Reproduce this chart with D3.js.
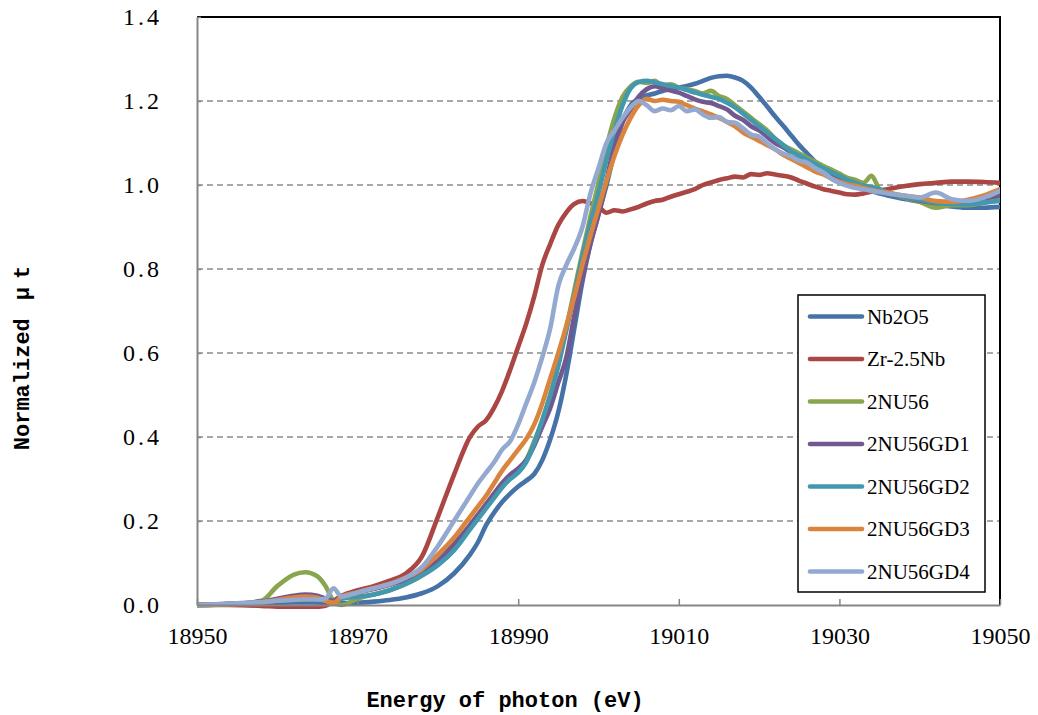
<!DOCTYPE html>
<html>
<head>
<meta charset="utf-8">
<script src="https://cdn.jsdelivr.net/npm/d3@7"></script>
<style>
  body { margin: 0; background: #fff; }
  .tick text { font-family: "Liberation Serif", serif; font-size: 24px; fill: #000; }
  .axis-title { font-family: "Liberation Mono", monospace; font-weight: bold; font-size: 22px; fill: #000; }
  .legend-label { font-family: "Liberation Serif", serif; font-size: 21px; fill: #000; }
  .grid { stroke: #8c8c8c; stroke-width: 1.5; stroke-dasharray: 6,4; }
  .series { fill: none; stroke-width: 4.6; stroke-linejoin: round; stroke-linecap: round; }
</style>
</head>
<body>
<svg id="chart" width="1038" height="715"></svg>
<script>
/* XANES Nb K-edge — normalized absorption */

const energy = [
  18950,18954,18958,18960,18962,18963.5,18965,18966,18967,18968,
  18970,18972,18974,18976,18978,18980,18982,18984,
  18985,18986,18987,18988,18989,18990,18991,18992,18993,18994,18995,18996,18997,18998,18999,
  19000,19001,19002,19003,19004,19005,19006,19007,19008,19009,
  19010,19011,19012,19013,19014,19015,19016,19017,19018,19019,
  19020,19021,19022,19023,19024,19025,19026,19027,19028,19029,
  19030,19031,19032,19033,19034,19035,19036,
  19038,19040,19042,19044,19046,19048,19050,
];

const nb2o5 = [
  0.000,0.002,0.004,0.005,0.006,0.006,0.006,0.005,0.004,0.004,
  0.005,0.008,0.012,0.018,0.028,0.045,0.075,0.120,
  0.150,0.190,0.220,0.245,0.265,0.282,0.296,0.312,0.345,0.395,0.460,0.550,0.660,0.770,0.860,
  0.930,1.000,1.080,1.150,1.190,1.205,1.213,1.218,1.224,1.228,
  1.232,1.236,1.241,1.248,1.255,1.259,1.260,1.256,1.248,1.232,
  1.210,1.187,1.163,1.141,1.118,1.095,1.075,1.055,1.040,1.027,
  1.015,1.005,0.997,0.990,0.985,0.980,0.975,
  0.967,0.960,0.953,0.949,0.946,0.946,0.948,
];

const zr25nb = [
  0.000,0.000,-0.002,-0.004,-0.005,-0.005,-0.004,-0.002,0.010,0.022,
  0.035,0.045,0.058,0.075,0.115,0.210,0.310,0.400,
  0.425,0.440,0.470,0.510,0.560,0.615,0.670,0.735,0.810,0.860,0.905,0.935,0.955,0.962,0.957,
  0.948,0.934,0.940,0.937,0.942,0.948,0.956,0.962,0.965,0.972,
  0.978,0.984,0.990,1.000,1.006,1.012,1.016,1.020,1.018,1.026,
  1.024,1.028,1.025,1.022,1.018,1.010,1.003,0.996,0.990,0.986,
  0.982,0.978,0.977,0.980,0.984,0.987,0.990,
  0.997,1.002,1.005,1.008,1.008,1.007,1.005,
];

const nu56 = [
  0.000,0.002,0.010,0.045,0.072,0.078,0.068,0.045,0.010,0.000,
  0.015,0.025,0.035,0.050,0.070,0.100,0.140,0.190,
  0.215,0.240,0.265,0.290,0.305,0.320,0.345,0.390,0.440,0.500,0.575,0.660,0.750,0.840,0.925,
  1.005,1.090,1.160,1.210,1.235,1.246,1.243,1.248,1.236,1.240,
  1.232,1.228,1.224,1.218,1.224,1.212,1.205,1.190,1.175,1.160,
  1.145,1.130,1.110,1.095,1.085,1.075,1.065,1.055,1.045,1.037,
  1.027,1.017,1.012,1.005,1.022,0.990,0.982,
  0.970,0.960,0.946,0.952,0.952,0.958,0.968,
];

const nu56gd1 = [
  0.000,0.003,0.008,0.015,0.022,0.025,0.022,0.015,0.010,0.020,
  0.030,0.038,0.048,0.060,0.078,0.105,0.145,0.190,
  0.215,0.240,0.265,0.290,0.310,0.325,0.345,0.380,0.425,0.470,0.530,0.590,0.690,0.780,0.860,
  0.930,1.010,1.100,1.150,1.180,1.210,1.228,1.235,1.230,1.225,
  1.220,1.212,1.204,1.198,1.195,1.188,1.180,1.165,1.155,1.140,
  1.130,1.115,1.100,1.090,1.078,1.068,1.058,1.048,1.038,1.030,
  1.020,1.010,1.003,0.997,0.990,0.985,0.980,
  0.972,0.963,0.958,0.960,0.962,0.968,0.975,
];

const nu56gd2 = [
  0.000,0.002,0.006,0.010,0.015,0.016,0.014,0.010,0.005,0.015,
  0.020,0.025,0.035,0.050,0.070,0.095,0.130,0.180,
  0.205,0.230,0.255,0.280,0.300,0.315,0.340,0.385,0.440,0.500,0.570,0.655,0.740,0.830,0.910,
  0.980,1.060,1.130,1.190,1.230,1.245,1.248,1.244,1.240,1.236,
  1.232,1.226,1.220,1.215,1.210,1.205,1.196,1.185,1.170,1.155,
  1.140,1.125,1.110,1.095,1.080,1.070,1.060,1.050,1.040,1.030,
  1.022,1.012,1.005,0.998,0.995,0.990,0.982,
  0.972,0.965,0.958,0.955,0.954,0.958,0.962,
];

const nu56gd3 = [
  0.000,0.002,0.006,0.012,0.018,0.020,0.017,0.010,0.005,0.020,
  0.030,0.040,0.050,0.065,0.085,0.120,0.160,0.210,
  0.235,0.260,0.290,0.320,0.345,0.370,0.395,0.430,0.480,0.540,0.600,0.665,0.735,0.810,0.880,
  0.945,1.010,1.070,1.120,1.160,1.190,1.205,1.200,1.203,1.200,
  1.198,1.190,1.182,1.175,1.168,1.160,1.150,1.140,1.125,1.115,
  1.105,1.095,1.085,1.072,1.062,1.052,1.042,1.032,1.025,1.015,
  1.008,1.002,0.998,0.993,0.988,0.985,0.982,
  0.975,0.970,0.962,0.960,0.965,0.975,0.990,
];

const nu56gd4 = [
  0.000,0.003,0.007,0.010,0.012,0.013,0.013,0.015,0.040,0.020,
  0.030,0.040,0.050,0.065,0.090,0.140,0.200,0.260,
  0.290,0.315,0.340,0.370,0.390,0.430,0.480,0.530,0.590,0.660,0.760,0.810,0.850,0.900,0.980,
  1.040,1.100,1.130,1.160,1.185,1.200,1.190,1.176,1.182,1.178,
  1.188,1.176,1.180,1.168,1.160,1.162,1.150,1.148,1.135,1.120,
  1.115,1.100,1.085,1.075,1.068,1.058,1.053,1.040,1.030,1.015,
  1.005,0.998,0.993,0.990,0.986,0.983,0.980,
  0.975,0.970,0.982,0.966,0.962,0.970,0.986,
];

const seriesNames  = ["Nb2O5","Zr-2.5Nb","2NU56","2NU56GD1","2NU56GD2","2NU56GD3","2NU56GD4"];
const seriesValues = [nb2o5, zr25nb, nu56, nu56gd1, nu56gd2, nu56gd3, nu56gd4];
const seriesColors = ["#4572A7","#AA4643","#89A54E","#71588F","#4198AF","#DB843D","#93A9CF"];

const xTicks = [18950, 18970, 18990, 19010, 19030, 19050];
const yTicks = [0, 0.2, 0.4, 0.6, 0.8, 1.0, 1.2, 1.4];

const svg = d3.select("#chart");
const X0 = 197, X1 = 1000, Y0 = 17, Y1 = 605;

const x = d3.scaleLinear().domain([18950, 19050]).range([X0, X1]);
const y = d3.scaleLinear().domain([0, 1.4]).range([Y1, Y0]);

// Gridlines (dashed)
svg.append("g").selectAll("line")
  .data(yTicks.filter(v => v > 0 && v < 1.4)).join("line")
  .attr("class", "grid")
  .attr("x1", X0).attr("x2", X1)
  .attr("y1", d => y(d)).attr("y2", d => y(d));

// Plot frame: black top/right
svg.append("path")
  .attr("d", `M${X0},${Y0}H${X1}V${Y1}`)
  .attr("fill", "none").attr("stroke", "#000").attr("stroke-width", 2);

// Series
svg.append("defs").append("clipPath").attr("id", "clip")
  .append("rect").attr("x", X0).attr("y", Y0 - 4).attr("width", X1 - X0).attr("height", Y1 - Y0 + 8);

const line = d3.line().x(d => x(d[0])).y(d => y(d[1])).curve(d3.curveMonotoneX);

svg.append("g").attr("clip-path", "url(#clip)")
  .selectAll("path")
  .data(seriesValues.map((vals, i) => ({ i, pts: energy.map((e, k) => [e, vals[k]]) })))
  .join("path")
  .attr("class", "series")
  .attr("stroke", d => seriesColors[d.i])
  .attr("d", d => line(d.pts));

// Axes (gray, inward ticks)
const xAxis = svg.append("g").attr("transform", `translate(0,${Y1})`)
  .call(d3.axisBottom(x).tickValues(xTicks).tickSizeInner(-6).tickSizeOuter(0).tickFormat(d3.format("d")));
xAxis.selectAll("text").attr("y", 0).attr("dy", 0).attr("transform", "translate(0,39)");

const yAxis = svg.append("g").attr("transform", `translate(${X0},0)`)
  .call(d3.axisLeft(y).tickValues(yTicks).tickSizeInner(-4).tickSizeOuter(0).tickFormat(d3.format(".1f")));
yAxis.selectAll("text").attr("x", -35).attr("letter-spacing", "3px");

for (const ax of [xAxis, yAxis]) {
  ax.select(".domain").attr("stroke", "#868686").attr("stroke-width", 2);
  ax.selectAll(".tick line").attr("stroke", "#868686").attr("stroke-width", 1.5);
}

// Axis titles
svg.append("text").attr("class", "axis-title")
  .attr("x", 505).attr("y", 707).attr("text-anchor", "middle")
  .text("Energy of photon (eV)");

const yt = svg.append("text").attr("class", "axis-title")
  .attr("transform", "translate(29,358) rotate(-90)").attr("text-anchor", "middle");
yt.append("tspan").text("Normalized");
yt.append("tspan").attr("dx", 18).text("μ");
yt.append("tspan").attr("dx", 8).text("t");

// Legend
const legend = svg.append("g");
legend.append("rect")
  .attr("x", 798).attr("y", 295).attr("width", 187).attr("height", 297)
  .attr("fill", "#fff").attr("stroke", "#000").attr("stroke-width", 1.5);

const rows = legend.selectAll("g.row").data(seriesNames).join("g")
  .attr("class", "row")
  .attr("transform", (d, i) => `translate(0,${316.5 + i * 42.5})`);
rows.append("line")
  .attr("x1", 810).attr("x2", 862)
  .attr("stroke", (d, i) => seriesColors[i]).attr("stroke-width", 4.6).attr("stroke-linecap", "round");
rows.append("text").attr("class", "legend-label")
  .attr("x", 867).attr("dy", "0.35em")
  .text(d => d);
</script>
</body>
</html>
